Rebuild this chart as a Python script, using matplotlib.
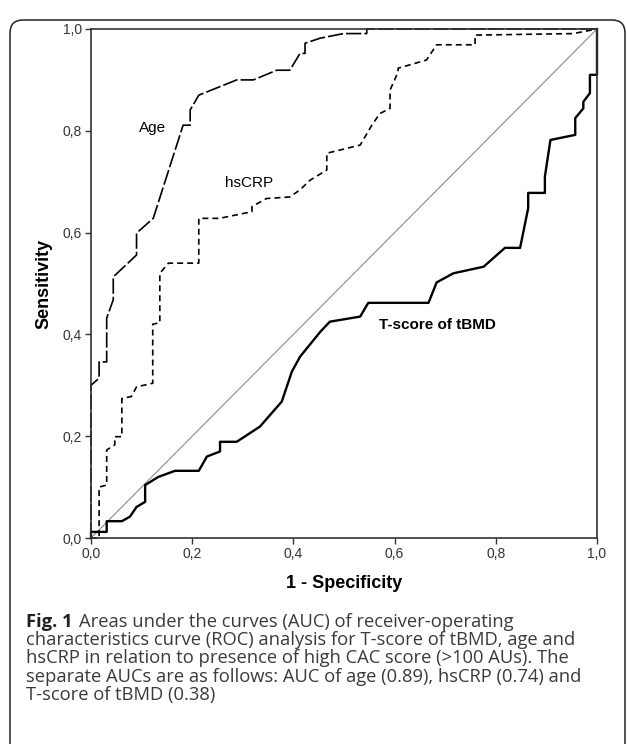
import matplotlib
matplotlib.use("Agg")
import matplotlib.pyplot as plt
from matplotlib.patches import FancyBboxPatch
from matplotlib.ticker import FuncFormatter
from matplotlib.transforms import IdentityTransform

## ROC points (1 - specificity, sensitivity)
age_x = [0.0, 0.0, 0.016, 0.016, 0.031, 0.031, 0.044, 0.044, 0.09, 0.09, 0.123, 0.182, 0.196, 0.196,
         0.213, 0.288, 0.321, 0.367, 0.393, 0.413, 0.423, 0.423, 0.453, 0.499, 0.545, 0.545, 1.0]
age_y = [0.0, 0.30, 0.314, 0.346, 0.346, 0.432, 0.468, 0.513, 0.556, 0.599, 0.628, 0.811, 0.811, 0.841,
         0.870, 0.90, 0.90, 0.919, 0.919, 0.952, 0.952, 0.972, 0.982, 0.991, 0.991, 1.0, 1.0]

crp_x = [0.0, 0.016, 0.016, 0.031, 0.031, 0.047, 0.047, 0.061, 0.061, 0.080, 0.09, 0.122, 0.122, 0.136,
         0.136, 0.153, 0.213, 0.213, 0.254, 0.318, 0.318, 0.347, 0.393, 0.413, 0.433, 0.466, 0.466, 0.479,
         0.532, 0.555, 0.571, 0.591, 0.591, 0.607, 0.607, 0.663, 0.683, 0.759, 0.759, 0.953, 1.0]
crp_y = [0.0, 0.0, 0.10, 0.104, 0.173, 0.183, 0.199, 0.199, 0.274, 0.278, 0.297, 0.304, 0.42, 0.423,
         0.52, 0.54, 0.54, 0.628, 0.628, 0.641, 0.651, 0.667, 0.670, 0.684, 0.703, 0.723, 0.756, 0.759,
         0.772, 0.811, 0.834, 0.844, 0.88, 0.916, 0.923, 0.939, 0.969, 0.969, 0.988, 0.991, 1.0]

tbmd_x = [0.0, 0.0, 0.031, 0.031, 0.061, 0.077, 0.09, 0.107, 0.107, 0.133, 0.166, 0.213, 0.229, 0.255,
          0.255, 0.288, 0.334, 0.377, 0.397, 0.413, 0.453, 0.472, 0.532, 0.548, 0.667, 0.683, 0.716,
          0.776, 0.818, 0.848, 0.864, 0.864, 0.897, 0.897, 0.908, 0.957, 0.957, 0.973, 0.973, 0.986,
          0.986, 1.0, 1.0]
tbmd_y = [0.0, 0.012, 0.012, 0.033, 0.033, 0.042, 0.061, 0.071, 0.104, 0.12, 0.132, 0.132, 0.16, 0.17,
          0.189, 0.189, 0.219, 0.268, 0.327, 0.356, 0.405, 0.425, 0.435, 0.462, 0.462, 0.502, 0.52,
          0.533, 0.570, 0.570, 0.648, 0.678, 0.678, 0.71, 0.782, 0.792, 0.825, 0.844, 0.857, 0.874,
          0.91, 0.91, 1.0]

ticks = [0.0, 0.2, 0.4, 0.6, 0.8, 1.0]

caption_lines = [
    "Areas under the curves (AUC) of receiver-operating",
    "characteristics curve (ROC) analysis for T-score of tBMD, age and",
    "hsCRP in relation to presence of high CAC score (>100 AUs). The",
    "separate AUCs are as follows: AUC of age (0.89), hsCRP (0.74) and",
    "T-score of tBMD (0.38)",
]

plt.rcParams["font.family"] = ["Liberation Sans", "DejaVu Sans"]
plt.rcParams["lines.scale_dashes"] = False

W, H = 627, 744
fig = plt.figure(figsize=(W / 100, H / 100), dpi=100)

# outer rounded frame (pixel coords)
frame = FancyBboxPatch((10, -30), 615, H - 10 + 30 - 10, boxstyle="round,pad=0,rounding_size=13",
                       transform=IdentityTransform(), fill=False, ec="#222222", lw=1.1)
fig.patches.append(frame)

ax = fig.add_axes([91 / W, 1 - 538 / H, (597 - 91) / W, (538 - 29) / H])
ax.plot([0, 1], [0, 1], color="#8a8a8a", lw=0.8)
ax.plot(age_x, age_y, color="black", lw=1.2, dashes=(11, 2.2), clip_on=False)
ax.plot(crp_x, crp_y, color="black", lw=1.2, dashes=(4.3, 2.9), clip_on=False)
ax.plot(tbmd_x, tbmd_y, color="black", lw=1.7, clip_on=False)

ax.text(0.121, 0.805, "Age", fontsize=11, ha="center", va="center")
ax.text(0.312, 0.697, "hsCRP", fontsize=11, ha="center", va="center")
ax.text(0.685, 0.418, "T-score of tBMD", fontsize=11, fontweight="bold", ha="center", va="center")

ax.set_xlim(0, 1)
ax.set_ylim(0, 1)
ax.set_xticks(ticks)
ax.set_yticks(ticks)
fmt = FuncFormatter(lambda v, p: f"{v:.1f}".replace(".", ","))
ax.xaxis.set_major_formatter(fmt)
ax.yaxis.set_major_formatter(fmt)
ax.tick_params(direction="out", length=4.5, width=1.0, color="#333333", labelsize=10, labelcolor="#333333", pad=2)
for s in ax.spines.values():
    s.set_linewidth(1.2)
    s.set_color("#333333")
ax.set_xlabel("1 - Specificity", fontsize=13, fontweight="bold", labelpad=10)
ax.set_ylabel("Sensitivity", fontsize=13, fontweight="bold", labelpad=7)

# caption, "Fig. 1" in bold then the rest
cap_font = ["Open Sans", "DejaVu Sans"]
cap_size = 13.2
base0 = 626.7
step = 18.3
fig.canvas.draw()
r = fig.canvas.get_renderer()
t = fig.text(26 / W, 1 - base0 / H, "Fig. 1", family=cap_font, fontsize=cap_size, fontweight="bold",
             color="#222222", va="baseline")
bb = t.get_window_extent(renderer=r)
for i, line in enumerate(caption_lines):
    x0 = (bb.x1 + 6) / W if i == 0 else 26 / W
    fig.text(x0, 1 - (base0 + i * step) / H, line, family=cap_font, fontsize=cap_size,
             color="#3a3a3a", va="baseline")

fig.savefig("out.png", dpi=100)
